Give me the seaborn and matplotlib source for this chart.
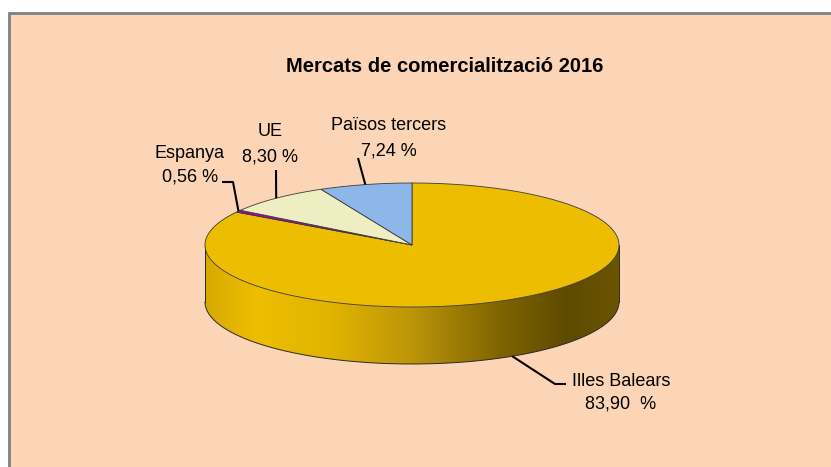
import numpy as np
import matplotlib
matplotlib.use("Agg")
import matplotlib.pyplot as plt
import seaborn as sns
from matplotlib.colors import LinearSegmentedColormap
from matplotlib.patches import Polygon, Rectangle
from matplotlib import font_manager

# ---- data ----
categories = ["Illes Balears", "Espanya", "UE", "Països tercers"]
values = [83.90, 0.56, 8.30, 7.24]
value_labels = ["83,90  %", "0,56 %", "8,30 %", "7,24 %"]
colors = ["#EDBE00", "#B000B0", "#EEEEC2", "#8DB7E8"]
title = "Mercats de comercialització 2016"

sns.set_style("white")
names = {f.name for f in font_manager.fontManager.ttflist}
plt.rcParams["font.family"] = ["Liberation Sans", "DejaVu Sans"]
title_family = ["Liberation Sans Narrow", "Liberation Sans", "DejaVu Sans"] if "Liberation Sans Narrow" in names else ["Liberation Sans", "DejaVu Sans"]

W, H = 831, 467
fig = plt.figure(figsize=(W / 100, H / 100), dpi=100)
fig.patch.set_facecolor("white")
ax = fig.add_axes([0, 0, 1, 1])
ax.axis("off")

# background panel
ax.add_patch(Rectangle((9, 13), W, H, facecolor="#FBD5B5", edgecolor="#808080", lw=2, zorder=0))

# pie geometry (pixels)
cx, cy, a, b, depth = 412, 245, 207, 62, 57
start = 90.0

def ell(theta, dz=0.0):
    t = np.radians(theta)
    return cx + a * np.cos(t), cy - b * np.sin(t) + dz

# side wall (front half)
th = np.linspace(180, 360, 200)
top_x, top_y = ell(th)
bot_x, bot_y = ell(th[::-1], depth)
side_pts = np.column_stack([np.concatenate([top_x, bot_x]), np.concatenate([top_y, bot_y])])
side = Polygon(side_pts, closed=True, facecolor="none", edgecolor="none", zorder=2)
ax.add_patch(side)
cmap = LinearSegmentedColormap.from_list(
    "side",
    [(0.0, "#D6AA00"), (0.12, "#EDBE00"), (0.3, "#E2B400"), (0.5, "#BC950A"),
     (0.72, "#7E6300"), (0.88, "#5E4A00"), (1.0, "#6C5500")])
grad = np.linspace(0, 1, 256).reshape(1, -1)
im = ax.imshow(grad, cmap=cmap, aspect="auto",
               extent=(cx - a, cx + a, cy + b + depth, cy - b), zorder=2)
im.set_clip_path(side)
ax.plot(bot_x, bot_y, color="#2a2a2a", lw=0.7, zorder=3)
for ang in (180, 360):
    x0, y0 = ell(ang)
    x1, y1 = ell(ang, depth)
    ax.plot([x0, x1], [y0, y1], color="#2a2a2a", lw=0.7, zorder=3)

# top face
fr = np.array(values) / sum(values)
ends = start - np.cumsum(fr) * 360
starts = np.concatenate([[start], ends[:-1]])
mids = (starts + ends) / 2
for s, e, c in zip(starts, ends, colors):
    t = np.linspace(s, e, max(int(abs(s - e)) * 2, 4))
    xs, ys = ell(t)
    pts = np.column_stack([np.concatenate([[cx], xs]), np.concatenate([[cy], ys])])
    ax.add_patch(Polygon(pts, closed=True, facecolor=c, edgecolor="#3a3a3a", lw=0.6, zorder=4))

# labels + leader lines
label_pos = [(621, 381, 404), (190, 153, 177), (270, 132, 157), (389, 126, 151)]
elbows = [[(555, 384), (566, 384)], [(233, 182), (222, 182)], [(276, 170)], [(358, 158)]]
anchor_depth = [depth, 0, 0, 0]
for cat, vl, m, (lx, ly1, ly2), el, dz in zip(categories, value_labels, mids, label_pos, elbows, anchor_depth):
    ax0 = ell(m, dz)
    pts = [ax0] + el
    ax.plot([p[0] for p in pts], [p[1] for p in pts], color="black", lw=1.5, zorder=5,
            solid_capstyle="butt")
    ax.text(lx, ly1, cat, ha="center", va="center", fontsize=13, color="black", zorder=6)
    ax.text(lx, ly2, vl, ha="center", va="center", fontsize=13, color="black", zorder=6)

ax.text(445, 66, title, ha="center", va="center", fontsize=14.5, fontweight="bold",
        family=title_family, color="black", zorder=6)

ax.set_xlim(0, W)
ax.set_ylim(H, 0)
fig.savefig("out.png", dpi=100, facecolor=fig.get_facecolor())
